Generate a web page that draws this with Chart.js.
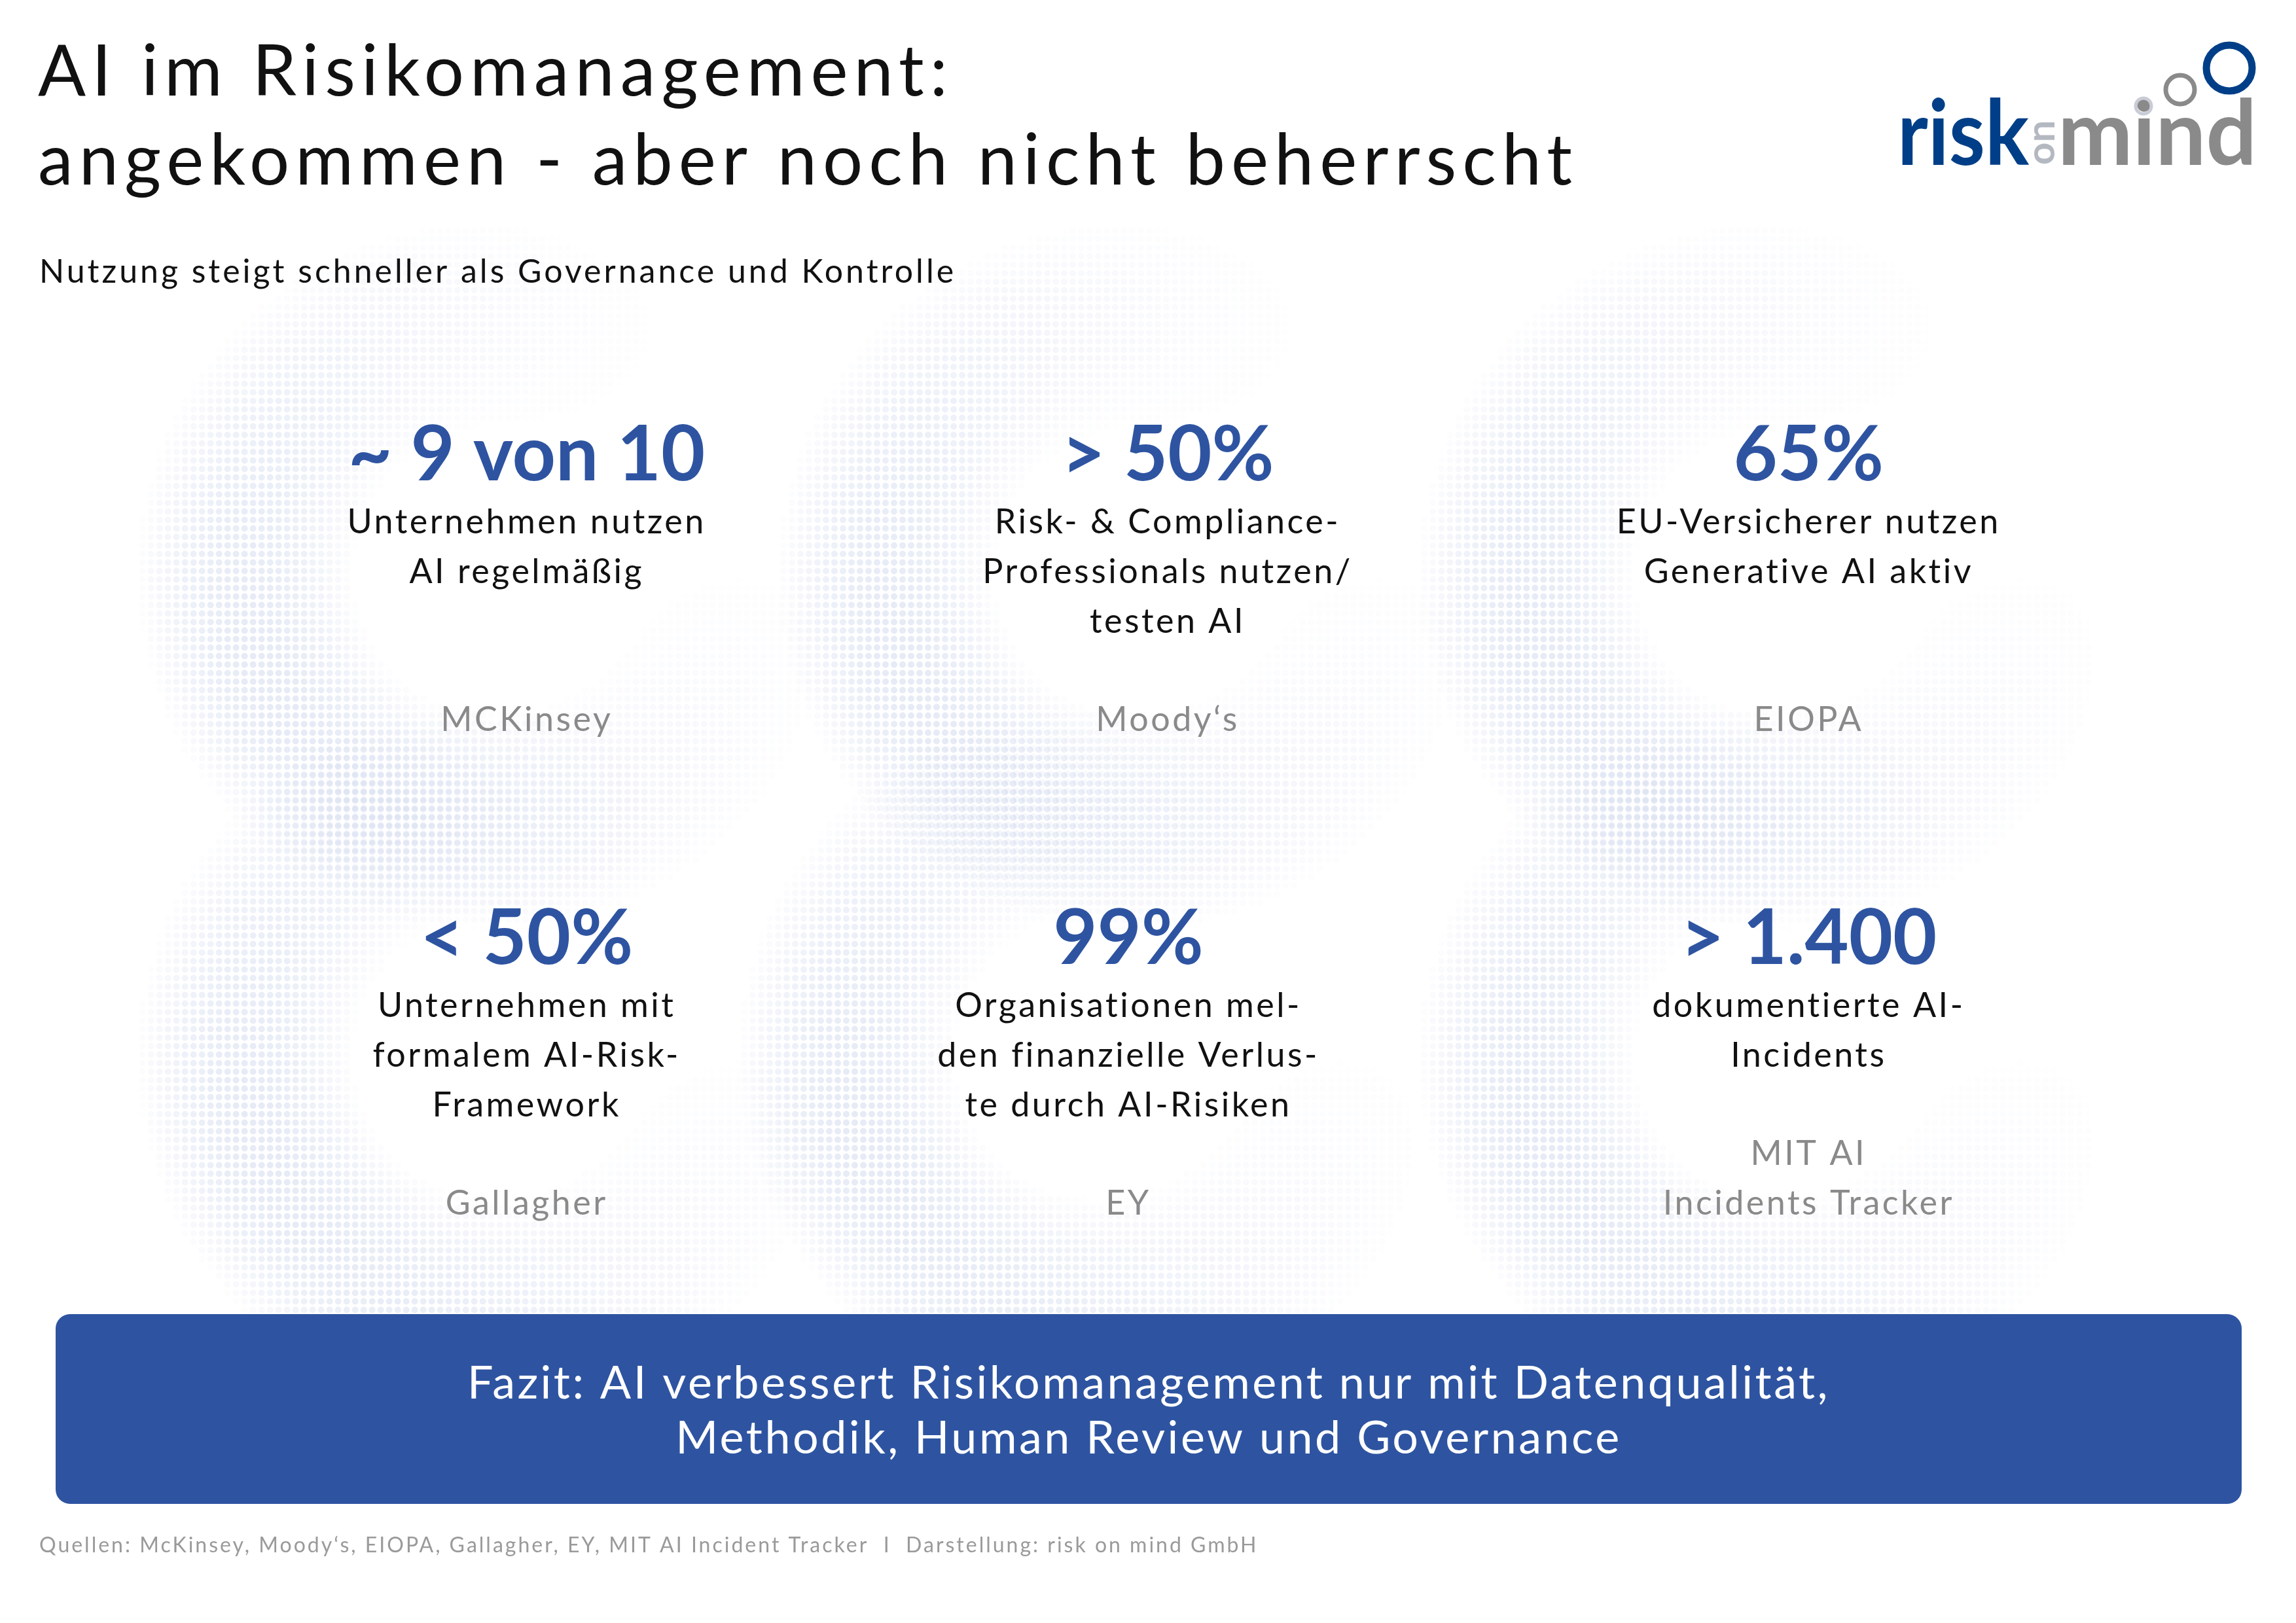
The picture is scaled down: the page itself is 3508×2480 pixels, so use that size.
<!DOCTYPE html>
<html>
<head>
<meta charset="utf-8">
<script src="https://cdn.jsdelivr.net/npm/chart.js@4.4.0/dist/chart.umd.min.js"></script>
<style>
  html, body { margin: 0; padding: 0; background: #fff; }
  #wrap { position: relative; width: 3508px; height: 2480px; }
</style>
</head>
<body>
<div id="wrap"><canvas id="myChart" width="3508" height="2480"></canvas></div>
<script>
/* ---------- data ---------- */
const cols = [0, 1, 2, 0, 1, 2];
const rows = [0, 0, 0, 1, 1, 1];
const figures = ['~ 9 von 10', '> 50%', '65%', '< 50%', '99%', '> 1.400'];
const texts = [
    ['Unternehmen nutzen', 'AI regelmäßig'],
    ['Risk- & Compliance-', 'Professionals nutzen/', 'testen AI'],
    ['EU-Versicherer nutzen', 'Generative AI aktiv'],
    ['Unternehmen mit', 'formalem AI-Risk-', 'Framework'],
    ['Organisationen mel-', 'den finanzielle Verlus-', 'te durch AI-Risiken'],
    ['dokumentierte AI-', 'Incidents'],
];
const sources = [
    ['MCKinsey'], ['Moody‘s'], ['EIOPA'],
    ['Gallagher'], ['EY'], ['MIT AI', 'Incidents Tracker'],
];

const BLUE = '#2E54A1';
const FONT = 'Lato, "Noto Sans", sans-serif';

// the middle tile of the lower row sits a little left of its column
function tileShift(i) { return i === 4 ? -60 : 0; }

/* ---------- plugin: draws halos + tile texts at the scale positions ---------- */
const tiles = {
    id: 'tiles',
    beforeDatasetsDraw(chart) {
        const ctx = chart.ctx;
        const xs = chart.scales.x, ys = chart.scales.y;
        ctx.save();
        ctx.fillStyle = '#8299cf';
        cols.forEach((c, i) => {
            const cx = xs.getPixelForValue(c) + tileShift(i) - 50;
            const cy = ys.getPixelForValue(rows[i]) + 180;
            const R = 380, W = 170, step = 13;
            for (let y = cy - R - W; y <= cy + R + W; y += step) {
                for (let x = cx - R - W; x <= cx + R + W; x += step) {
                    const d = Math.hypot(x - cx, y - cy);
                    const t = Math.abs(d - R) / W;
                    if (t >= 1) continue;
                    const ang = Math.atan2(y - cy, x - cx);
                    const side = 0.5 + 0.5 * Math.cos(ang - Math.PI * 0.85);
                    const a = (1 - t * t) * 0.2 * side;
                    if (a < 0.012) continue;
                    ctx.globalAlpha = a;
                    ctx.beginPath();
                    ctx.arc(x, y, 5, 0, Math.PI * 2);
                    ctx.fill();
                }
            }
        });
        ctx.restore();
    },
    afterDatasetsDraw(chart) {
        const ctx = chart.ctx;
        const xs = chart.scales.x, ys = chart.scales.y;
        ctx.save();
        ctx.textAlign = 'center';
        ctx.textBaseline = 'middle';
        cols.forEach((c, i) => {
            const x = xs.getPixelForValue(c) + tileShift(i);
            const y = ys.getPixelForValue(rows[i]);
            ctx.letterSpacing = '0px';
            ctx.fillStyle = BLUE;
            ctx.font = 'bold 116px ' + FONT;
            ctx.fillText(figures[i], x, y);
            ctx.letterSpacing = '3.5px';
            ctx.fillStyle = '#111';
            ctx.font = '52px ' + FONT;
            texts[i].forEach((t, k) => ctx.fillText(t, x, y + 102 + k * 76));
            ctx.fillStyle = '#8a8a8a';
            const n = sources[i].length;
            sources[i].forEach((t, k) => ctx.fillText(t, x, y + 404 - (n - 1 - k) * 76));
        });
        ctx.restore();
    }
};

/* ---------- plugin: title, subtitle, logo, banner, footer ---------- */
const frame = {
    id: 'frame',
    afterDraw(chart) {
        const ctx = chart.ctx;
        ctx.save();
        ctx.textBaseline = 'alphabetic';
        ctx.textAlign = 'left';
        ctx.fillStyle = '#111';
        ctx.letterSpacing = '9px';
        ctx.font = '108px ' + FONT;
        ctx.fillText('AI im Risikomanagement:', 58, 146);
        ctx.fillText('angekommen - aber noch nicht beherrscht', 58, 282);
        ctx.letterSpacing = '4px';
        ctx.font = '50px ' + FONT;
        ctx.fillText('Nutzung steigt schneller als Governance und Kontrolle', 60, 432);
        ctx.letterSpacing = '0px';

        // logo
        function fitText(t, x0, x1, base) {
            const w = ctx.measureText(t).width;
            ctx.save();
            ctx.translate(x0, base);
            ctx.scale((x1 - x0) / w, 1);
            ctx.fillText(t, 0, 0);
            ctx.restore();
        }
        ctx.font = 'bold 138px ' + FONT;
        ctx.fillStyle = '#003F87';
        fitText('risk', 2899, 3100, 252);
        ctx.fillStyle = '#8a8a8a';
        fitText('mind', 3144, 3448, 252);
        ctx.save();
        ctx.translate(3139, 252);
        ctx.rotate(-Math.PI / 2);
        ctx.fillStyle = '#b4b8c0';
        ctx.font = 'bold 60px ' + FONT;
        ctx.fillText('on', 0, 0);
        ctx.restore();
        ctx.lineWidth = 5;
        ctx.strokeStyle = '#c9ccd6';
        ctx.beginPath(); ctx.arc(3275, 162, 12, 0, Math.PI * 2); ctx.stroke();
        ctx.lineWidth = 7;
        ctx.strokeStyle = '#8a8a8a';
        ctx.beginPath(); ctx.arc(3331, 137, 22, 0, Math.PI * 2); ctx.stroke();
        ctx.lineWidth = 11;
        ctx.strokeStyle = '#003F87';
        ctx.beginPath(); ctx.arc(3406, 104, 35, 0, Math.PI * 2); ctx.stroke();

        // banner
        ctx.fillStyle = BLUE;
        ctx.beginPath();
        ctx.roundRect(85, 2008, 3340, 290, 22);
        ctx.fill();
        ctx.fillStyle = '#fff';
        ctx.textAlign = 'center';
        ctx.textBaseline = 'middle';
        ctx.letterSpacing = '3.5px';
        ctx.font = '70px ' + FONT;
        ctx.fillText('Fazit: AI verbessert Risikomanagement nur mit Datenqualität,', 1755, 2114);
        ctx.fillText('Methodik, Human Review und Governance', 1755, 2198);

        // footer
        ctx.textAlign = 'left';
        ctx.fillStyle = '#9a9a9a';
        ctx.letterSpacing = '3px';
        ctx.font = '32px ' + FONT;
        ctx.fillText('Quellen: McKinsey, Moody‘s, EIOPA, Gallagher, EY, MIT AI Incident Tracker  I  Darstellung: risk on mind GmbH', 60, 2362);
        ctx.restore();
    }
};

const config = {
    type: 'scatter',
    data: {
        datasets: [{
            data: cols.map((c, i) => ({ x: c, y: rows[i] })),
            pointRadius: 0,
        }]
    },
    options: {
        responsive: false,
        animation: false,
        layout: { padding: { left: 315, right: 255, top: 327, bottom: 675 } },
        plugins: { legend: { display: false }, tooltip: { enabled: false } },
        scales: {
            x: { type: 'linear', min: -0.5, max: 2.5, display: false },
            y: { type: 'linear', min: -0.5, max: 1.5, reverse: true, display: false }
        }
    },
    plugins: [tiles, frame]
};

const myChart = new Chart(document.getElementById('myChart'), config);
</script>
</body>
</html>
